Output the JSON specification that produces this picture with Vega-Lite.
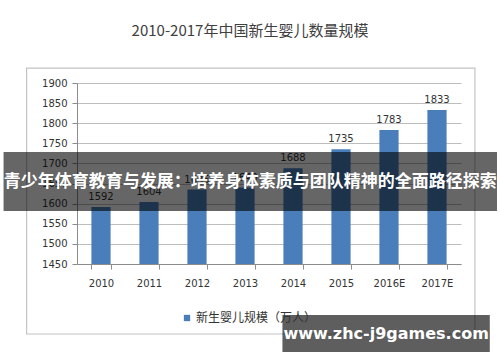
{
  "$schema": "https://vega.github.io/schema/vega-lite/v6.json",
  "width": 384,
  "height": 181,
  "autosize": "none",
  "padding": {"left": 77, "top": 83, "right": 39, "bottom": 98},
  "background": "#ffffff",
  "config": {
    "view": {"stroke": null},
    "axis": {"labelFont": "DejaVu Sans", "labelFontSize": 10, "labelColor": "#333333", "domainColor": "#8c8c8c", "tickColor": "#8c8c8c", "title": null},
    "legend": {"labelFont": "Noto Sans CJK SC", "labelFontSize": 12, "labelColor": "#333333"}
  },
  "title": {
    "text": "2010-2017年中国新生婴儿数量规模",
    "font": "Noto Sans CJK SC",
    "fontSize": 15,
    "fontWeight": "normal",
    "color": "#404040",
    "anchor": "middle",
    "dx": -19,
    "offset": 29
  },
  "data": {"values": [
    {"year": "2010", "value": 1592, "series": "新生婴儿规模（万人）"},
    {"year": "2011", "value": 1604, "series": "新生婴儿规模（万人）"},
    {"year": "2012", "value": 1635, "series": "新生婴儿规模（万人）"},
    {"year": "2013", "value": 1640, "series": "新生婴儿规模（万人）"},
    {"year": "2014", "value": 1688, "series": "新生婴儿规模（万人）"},
    {"year": "2015", "value": 1735, "series": "新生婴儿规模（万人）"},
    {"year": "2016E", "value": 1783, "series": "新生婴儿规模（万人）"},
    {"year": "2017E", "value": 1833, "series": "新生婴儿规模（万人）"}
  ]},
  "layer": [
    {
      "layer": [
        {
          "mark": {"type": "bar", "color": "#4a7ebb"},
          "encoding": {
            "x": {"field": "year", "type": "nominal", "sort": null,
              "scale": {"paddingInner": 0.6, "paddingOuter": 0.3},
              "axis": {"labelAngle": 0, "tickBand": "extent", "labelPadding": 9, "tickSize": 5, "grid": false}},
            "y": {"field": "value", "type": "quantitative",
              "scale": {"domain": [1450, 1900], "nice": false, "zero": false},
              "axis": {"values": [1450, 1500, 1550, 1600, 1650, 1700, 1750, 1800, 1850, 1900], "tickCount": 10, "format": "d", "labelOverlap": false, "grid": true, "gridColor": "#bdbdbd", "tickSize": 5, "labelPadding": 5}},
            "y2": {"datum": 1450},
            "color": {"field": "series", "type": "nominal",
              "scale": {"range": ["#4a7ebb"]},
              "legend": {"title": null, "orient": "none", "legendX": 104, "legendY": 229, "symbolType": "square", "symbolSize": 40, "labelOffset": 3}}
          }
        },
        {
          "mark": {"type": "text", "font": "DejaVu Sans", "fontSize": 10, "color": "#333333", "baseline": "bottom", "dy": -5},
          "encoding": {
            "x": {"field": "year", "type": "nominal", "sort": null},
            "y": {"field": "value", "type": "quantitative"},
            "text": {"field": "value", "type": "quantitative", "format": "d"}
          }
        }
      ]
    },
    {
      "data": {"values": [{"part": "frame"}]},
      "mark": {"type": "rect", "fill": "transparent", "stroke": "#c4c4c4", "strokeWidth": 1.2},
      "encoding": {
        "x": {"datum": -1.55, "type": "quantitative", "scale": {"domain": [-0.5, 7.5], "nice": false, "zero": false}, "axis": null},
        "x2": {"datum": 7.79},
        "y": {"datum": 1937, "type": "quantitative", "scale": {"domain": [1450, 1900], "nice": false, "zero": false}, "axis": null},
        "y2": {"datum": 1276}
      }
    },
    {
      "data": {"values": [{"label": "青少年体育教育与发展：培养身体素质与团队精神的全面路径探索"}]},
      "layer": [
        {
          "mark": {"type": "rect", "fill": "#000000", "fillOpacity": 0.6},
          "encoding": {
            "x": {"datum": -2.03, "type": "quantitative", "scale": {"domain": [-0.5, 7.5], "nice": false, "zero": false}, "axis": null},
            "x2": {"datum": 8.25},
            "y": {"datum": 1728.5, "type": "quantitative", "scale": {"domain": [1450, 1900], "nice": false, "zero": false}, "axis": null},
            "y2": {"datum": 1581.8}
          }
        },
        {
          "mark": {"type": "text", "font": "Noto Sans CJK SC", "fontSize": 17, "fontWeight": "bold", "color": "#ffffff", "baseline": "middle", "align": "center"},
          "encoding": {
            "x": {"datum": 3.11, "type": "quantitative", "scale": {"domain": [-0.5, 7.5], "nice": false, "zero": false}, "axis": null},
            "y": {"datum": 1653.8, "type": "quantitative", "scale": {"domain": [1450, 1900], "nice": false, "zero": false}, "axis": null},
            "text": {"field": "label"}
          }
        }
      ],
      "resolve": {"scale": {"x": "shared", "y": "shared"}}
    },
    {
      "data": {"values": [{"label": "www.zhc-j9games.com"}]},
      "layer": [
        {
          "mark": {"type": "rect", "fill": "#000000", "fillOpacity": 0.63},
          "encoding": {
            "x": {"datum": 3.78, "type": "quantitative", "scale": {"domain": [-0.5, 7.5], "nice": false, "zero": false}, "axis": null},
            "x2": {"datum": 8.10},
            "y": {"datum": 1323.2, "type": "quantitative", "scale": {"domain": [1450, 1900], "nice": false, "zero": false}, "axis": null},
            "y2": {"datum": 1231.2}
          }
        },
        {
          "mark": {"type": "text", "font": "DejaVu Sans", "fontSize": 16, "fontWeight": "bold", "color": "#ffffff", "baseline": "middle", "align": "center"},
          "encoding": {
            "x": {"datum": 5.94, "type": "quantitative", "scale": {"domain": [-0.5, 7.5], "nice": false, "zero": false}, "axis": null},
            "y": {"datum": 1276, "type": "quantitative", "scale": {"domain": [1450, 1900], "nice": false, "zero": false}, "axis": null},
            "text": {"field": "label"}
          }
        }
      ],
      "resolve": {"scale": {"x": "shared", "y": "shared"}}
    }
  ],
  "resolve": {"scale": {"x": "independent", "y": "independent"}}
}
